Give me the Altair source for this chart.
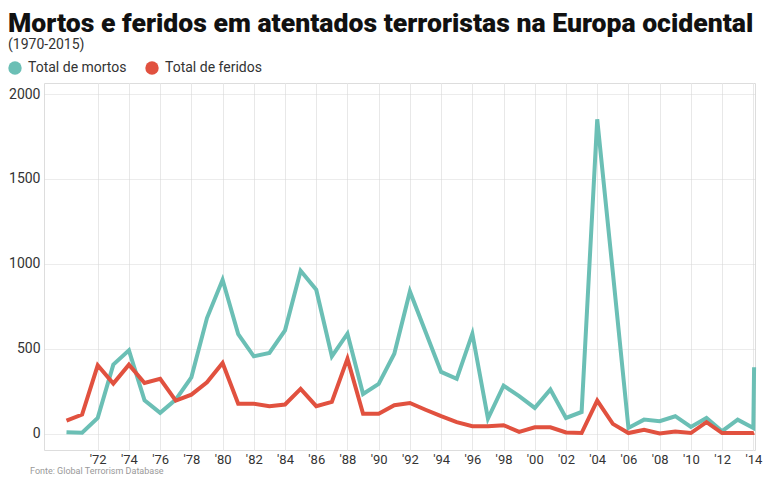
import altair as alt
import pandas as pd

# Year positions (the reference draws its 2015 value right at the 2014 gridline)
years = list(range(1970, 2015)) + [2014.05]
year_labels = list(range(1970, 2016))

mortos = [8, 5, 92, 406, 490, 196, 122, 200, 331, 680,
          906, 586, 455, 475, 608, 959, 847, 455, 588, 233,
          292, 470, 837, 600, 363, 322, 588, 88, 282, 220,
          151, 259, 92, 127, 1851, 950, 33, 82, 73, 102,
          39, 92, 14, 82, 33, 390]
feridos = [76, 112, 402, 294, 406, 298, 322, 194, 229, 302,
           416, 176, 176, 161, 171, 263, 161, 186, 441, 116,
           116, 167, 180, 140, 102, 67, 43, 43, 49, 10,
           37, 37, 6, 3, 194, 57, 3, 22, 0, 12,
           3, 67, 3, 3, 3, 5]

series_names = ["Total de mortos", "Total de feridos"]
series_colors = ["#6bbfb5", "#e1513f"]
x_ticks = list(range(1972, 2015, 2))
y_ticks = [0, 500, 1000, 1500, 2000]

rows = []
for name, vals in zip(series_names, [mortos, feridos]):
    for x, lab, v in zip(years, year_labels, vals):
        rows.append({"x": x, "ano": lab, "valor": v, "serie": name})
df = pd.DataFrame(rows)

W, H = 711, 367

x_enc = alt.X("x:Q", scale=alt.Scale(domain=[1968.559, 2014.108], nice=False, zero=False),
              axis=alt.Axis(values=x_ticks, title=None, domain=False, ticks=False,
                            labelExpr="\"'\" + (datum.value % 100 < 10 ? '0' : '') + (datum.value % 100)",
                            labelFont="Roboto", labelFontSize=13, labelColor="#333",
                            labelPadding=3, grid=True, gridColor="#e8e8e8", gridWidth=1))
y_enc = alt.Y("valor:Q", scale=alt.Scale(domain=[-97, 2065], nice=False, zero=False),
              axis=alt.Axis(values=y_ticks, title=None, domain=False, ticks=False, format="d",
                            labelFont="Roboto", labelFontSize=14, labelColor="#333",
                            labelPadding=4, grid=True, gridColor="#d8d8d8", gridDash=[1, 1]))
color_scale = alt.Scale(domain=series_names, range=series_colors)
legend = alt.Legend(title=None, orient="none", legendX=-36, legendY=-22,
                    direction="horizontal", symbolType="circle",
                    symbolSize=180, symbolStrokeWidth=0, symbolOpacity=1,
                    labelFont="Roboto", labelFontSize=14, labelColor="#333",
                    columnPadding=18, labelOffset=6)

# invisible filled points first, so the shared legend uses filled circles
legend_pts = alt.Chart(df).mark_point(filled=True, size=1, opacity=0).encode(
    x=x_enc, y=y_enc,
    color=alt.Color("serie:N", scale=color_scale, sort=series_names, legend=legend),
)

lines = alt.Chart(df).mark_line(strokeWidth=4, strokeJoin="miter", strokeCap="butt").encode(
    x=x_enc, y=y_enc,
    color=alt.Color("serie:N", scale=color_scale, sort=series_names, legend=legend),
    detail="serie:N",
    order="ano:Q",
)

source = alt.Chart(pd.DataFrame({"t": ["Fonte: Global Terrorism Database"]})).mark_text(
    align="left", baseline="alphabetic", font="Roboto", fontSize=9, color="#999"
).encode(text="t:N", x=alt.value(-14), y=alt.value(H + 24))

chart = alt.layer(legend_pts, lines, source).properties(
    width=W, height=H,
    title=alt.TitleParams(
        text="Mortos e feridos em atentados terroristas na Europa ocidental",
        subtitle="(1970-2015)",
        anchor="start", frame="group", dx=-36,
        font="Roboto", fontSize=26.6, fontWeight=900, color="#111",
        subtitleFont="Roboto", subtitleFontSize=14, subtitleColor="#333",
        subtitlePadding=0, offset=9,
    ),
    autosize=alt.AutoSizeParams(type="none"),
    padding={"left": 36, "top": 75, "right": 8, "bottom": 25},
).configure_view(stroke=None).configure(background="white")

chart.save("out.html", embed_options={"renderer": "svg", "actions": False})
